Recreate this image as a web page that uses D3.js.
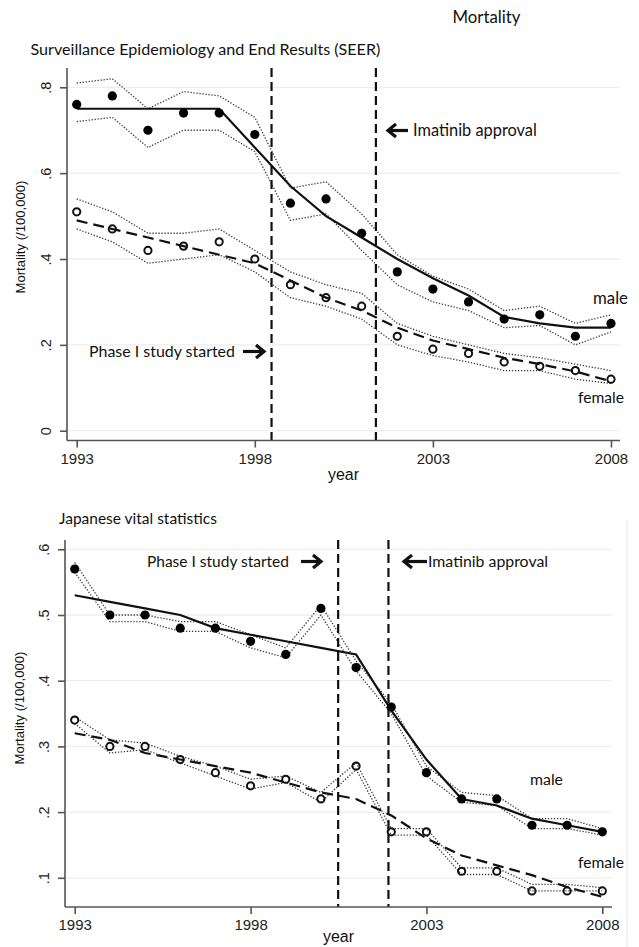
<!DOCTYPE html>
<html>
<head>
<meta charset="utf-8">
<script src="https://cdn.jsdelivr.net/npm/d3@7"></script>
<style>
  html, body { margin: 0; padding: 0; background: #fff; }
  svg { display: block; }
</style>
</head>
<body>
<svg id="chart" width="639" height="947"></svg>
<script>
// ---------------- data ----------------
const years = [1993,1994,1995,1996,1997,1998,1999,2000,2001,2002,2003,2004,2005,2006,2007,2008];
const xTicks = [1993, 1998, 2003, 2008];

// SEER
const seerMale    = [0.76,0.78,0.70,0.74,0.74,0.69,0.53,0.54,0.46,0.37,0.33,0.30,0.26,0.27,0.22,0.25];
const seerMaleFit = [0.75,0.75,0.75,0.75,0.75,0.66,0.57,0.50,0.45,0.40,0.355,0.315,0.265,0.25,0.24,0.24];
const seerMaleHi  = [0.81,0.82,0.75,0.79,0.78,0.73,0.565,0.58,0.505,0.41,0.36,0.33,0.28,0.29,0.25,0.27];
const seerMaleLo  = [0.72,0.73,0.66,0.70,0.70,0.65,0.49,0.505,0.42,0.34,0.30,0.28,0.24,0.245,0.20,0.23];
const seerFemale    = [0.51,0.47,0.42,0.43,0.44,0.40,0.34,0.31,0.29,0.22,0.19,0.18,0.16,0.15,0.14,0.12];
const seerFemaleFit = [0.49,0.47,0.45,0.43,0.41,0.39,0.35,0.31,0.28,0.24,0.21,0.19,0.17,0.155,0.138,0.115];
const seerFemaleHi  = [0.54,0.51,0.46,0.46,0.47,0.42,0.37,0.34,0.32,0.25,0.22,0.20,0.18,0.17,0.155,0.14];
const seerFemaleLo  = [0.47,0.44,0.39,0.40,0.41,0.37,0.31,0.29,0.26,0.20,0.175,0.16,0.14,0.14,0.12,0.11];
const seerEvents = [1998.47, 2001.40];
const seerYTicks = [0, 0.2, 0.4, 0.6, 0.8];
const seerYLabels = ["0", ".2", ".4", ".6", ".8"];

// Japan
const jpMale    = [0.57,0.50,0.50,0.48,0.48,0.46,0.44,0.51,0.42,0.36,0.26,0.22,0.22,0.18,0.18,0.17];
const jpMaleFit = [0.53,0.52,0.51,0.50,0.48,0.47,0.46,0.45,0.44,0.355,0.28,0.22,0.21,0.19,0.18,0.17];
const jpMaleHi  = [0.58,0.50,0.50,0.49,0.49,0.47,0.45,0.515,0.43,0.365,0.27,0.23,0.225,0.19,0.19,0.175];
const jpMaleLo  = [0.565,0.49,0.49,0.475,0.475,0.45,0.435,0.50,0.415,0.35,0.255,0.215,0.21,0.175,0.175,0.165];
const jpFemale    = [0.34,0.30,0.30,0.28,0.26,0.24,0.25,0.22,0.27,0.17,0.17,0.11,0.11,0.08,0.08,0.08];
const jpFemaleFit = [0.32,0.31,0.29,0.28,0.27,0.26,0.245,0.23,0.22,0.195,0.16,0.134,0.119,0.104,0.086,0.071];
const jpFemaleHi  = [0.345,0.31,0.305,0.285,0.27,0.25,0.255,0.23,0.275,0.175,0.175,0.115,0.115,0.09,0.09,0.085];
const jpFemaleLo  = [0.335,0.29,0.295,0.275,0.255,0.235,0.245,0.215,0.265,0.165,0.165,0.105,0.105,0.08,0.08,0.08];
const jpEvents = [2000.49, 2001.92];
const jpYTicks = [0.1, 0.2, 0.3, 0.4, 0.5, 0.6];
const jpYLabels = [".1", ".2", ".3", ".4", ".5", ".6"];

// ---------------- drawing ----------------
const svg = d3.select("#chart");
const SANS = "Lato, 'Open Sans', sans-serif";
const ARIAL = "'Liberation Sans', Arial, sans-serif";

function fitText(sel, target) {
  const w = sel.node().getComputedTextLength();
  const fs = parseFloat(sel.attr("font-size"));
  if (w > 0) sel.attr("font-size", (fs * target / w).toFixed(2));
  return sel;
}

function label(x, y, txt, target, opts = {}) {
  const t = svg.append("text")
    .attr("x", x).attr("y", y)
    .attr("font-family", opts.font || SANS)
    .attr("font-size", opts.size || 16)
    .attr("fill", "#111")
    .attr("text-anchor", opts.anchor || "start")
    .text(txt);
  if (opts.transform) t.attr("transform", opts.transform);
  if (target) fitText(t, target);
  return t;
}

function arrow(x1, x2, y, dir) {
  // dir = 1 pointing right, -1 pointing left
  const tip = dir > 0 ? x2 : x1;
  const tail = dir > 0 ? x1 : x2;
  svg.append("line")
    .attr("x1", tail).attr("x2", tip - dir * 2).attr("y1", y).attr("y2", y)
    .attr("stroke", "#111").attr("stroke-width", 3.2);
  svg.append("path")
    .attr("d", `M${tip - dir * 8},${y - 6.5} L${tip},${y} L${tip - dir * 8},${y + 6.5}`)
    .attr("fill", "none").attr("stroke", "#111").attr("stroke-width", 3.2)
    .attr("stroke-linejoin", "miter");
}

function panel(cfg) {
  const x = d3.scaleLinear().domain([1993, 2008]).range(cfg.xRange);
  const y = d3.scaleLinear().domain(cfg.yDom).range(cfg.yRange);
  const g = svg.append("g");

  // gridlines
  g.append("g").selectAll("line").data(cfg.yTicks).join("line")
    .attr("x1", cfg.left).attr("x2", cfg.right)
    .attr("y1", d => y(d)).attr("y2", d => y(d))
    .attr("stroke", "#eeeeee").attr("stroke-width", 1.3);

  const line = d3.line().x(d => x(d[0])).y(d => y(d[1]));
  const pairs = arr => years.map((yr, i) => [yr, arr[i]]);

  // CI dotted
  [cfg.maleHi, cfg.maleLo, cfg.femaleHi, cfg.femaleLo].forEach(arr => {
    g.append("path").attr("d", line(pairs(arr)))
      .attr("fill", "none").attr("stroke", "#3a3a3a")
      .attr("stroke-width", 1.3).attr("stroke-dasharray", "1.3,1.7");
  });

  // fits
  g.append("path").attr("d", line(pairs(cfg.maleFit)))
    .attr("fill", "none").attr("stroke", "#111").attr("stroke-width", 2.2);
  g.append("path").attr("d", line(pairs(cfg.femaleFit)))
    .attr("fill", "none").attr("stroke", "#111").attr("stroke-width", 2.2)
    .attr("stroke-dasharray", "11,6");

  // markers
  g.append("g").selectAll("circle").data(pairs(cfg.male)).join("circle")
    .attr("cx", d => x(d[0])).attr("cy", d => y(d[1])).attr("r", 4.6)
    .attr("fill", "#000");
  g.append("g").selectAll("circle").data(pairs(cfg.female)).join("circle")
    .attr("cx", d => x(d[0])).attr("cy", d => y(d[1])).attr("r", 3.6)
    .attr("fill", "none").attr("stroke", "#111").attr("stroke-width", 2);

  // event lines
  g.append("g").selectAll("line").data(cfg.events).join("line")
    .attr("x1", d => x(d)).attr("x2", d => x(d))
    .attr("y1", cfg.top).attr("y2", cfg.bottom)
    .attr("stroke", "#111").attr("stroke-width", 2.2)
    .attr("stroke-dasharray", "9,5");

  // axes
  const ax = g.append("g");
  ax.append("line").attr("x1", cfg.left).attr("x2", cfg.left)
    .attr("y1", cfg.top).attr("y2", cfg.bottom)
    .attr("stroke", "#555").attr("stroke-width", 1.6);
  ax.append("line").attr("x1", cfg.left).attr("x2", cfg.right)
    .attr("y1", cfg.bottom).attr("y2", cfg.bottom)
    .attr("stroke", "#555").attr("stroke-width", 1.6);

  const yAxis = d3.axisLeft(y).tickValues(cfg.yTicks)
    .tickFormat((d, i) => cfg.yLabels[i]).tickSize(7).tickSizeOuter(0);
  const ya = g.append("g").attr("transform", `translate(${cfg.left},0)`).call(yAxis);
  ya.select(".domain").remove();
  ya.selectAll(".tick line").attr("stroke", "#555").attr("stroke-width", 1.6);
  ya.selectAll(".tick text")
    .attr("x", null).attr("dy", null)
    .attr("transform", "translate(-16.5,0) rotate(-90)")
    .attr("text-anchor", "middle")
    .attr("font-family", ARIAL).attr("font-size", 14.5).attr("fill", "#222");

  const xAxis = d3.axisBottom(x).tickValues(xTicks)
    .tickFormat(d3.format("d")).tickSize(7).tickSizeOuter(0);
  const xa = g.append("g").attr("transform", `translate(0,${cfg.bottom})`).call(xAxis);
  xa.select(".domain").remove();
  xa.selectAll(".tick line").attr("stroke", "#555").attr("stroke-width", 1.6);
  xa.selectAll(".tick text")
    .attr("y", cfg.xLabelDy).attr("dy", null)
    .attr("font-family", ARIAL).attr("font-size", 15).attr("fill", "#222");

  // axis titles
  label((cfg.left + cfg.right) / 2, cfg.yearBaseline, "year", 31, {font: ARIAL, size: 14, anchor: "middle"});
  label(0, 0, "Mortality (/100,000)", 113,
        {font: ARIAL, size: 11, anchor: "middle",
         transform: `translate(${cfg.yTitleX},${cfg.yTitleY}) rotate(-90)`});
  return {x, y};
}

// top panel
panel({
  left: 67, right: 620, top: 68, bottom: 440.5,
  xRange: [76.7, 611], yDom: [0, 0.8], yRange: [430.7, 87.3],
  yTicks: seerYTicks, yLabels: seerYLabels,
  male: seerMale, maleFit: seerMaleFit, maleHi: seerMaleHi, maleLo: seerMaleLo,
  female: seerFemale, femaleFit: seerFemaleFit, femaleHi: seerFemaleHi, femaleLo: seerFemaleLo,
  events: seerEvents, xLabelDy: 23, yearBaseline: 480, yTitleX: 25, yTitleY: 237
});

// bottom panel
panel({
  left: 65, right: 612, top: 540, bottom: 907,
  xRange: [74.7, 602.3], yDom: [0.1, 0.6], yRange: [877.8, 549.3],
  yTicks: jpYTicks, yLabels: jpYLabels,
  male: jpMale, maleFit: jpMaleFit, maleHi: jpMaleHi, maleLo: jpMaleLo,
  female: jpFemale, femaleFit: jpFemaleFit, femaleHi: jpFemaleHi, femaleLo: jpFemaleLo,
  events: jpEvents, xLabelDy: 23, yearBaseline: 942, yTitleX: 24, yTitleY: 708
});

// faint right border on lower panel
svg.append("line").attr("x1", 627).attr("x2", 627).attr("y1", 520).attr("y2", 947)
  .attr("stroke", "#ececec").attr("stroke-width", 1.5);

// titles
label(452.5, 23, "Mortality", 68, {size: 18});
label(30.5, 55, "Surveillance Epidemiology and End Results (SEER)", 350, {size: 16});
label(59, 523.5, "Japanese vital statistics", 158, {size: 16});

// annotations top
arrow(388, 408, 130.5, -1);
label(413, 136, "Imatinib approval", 124, {size: 16});
label(89, 357, "Phase I study started", 146, {size: 16});
arrow(243, 264, 351.5, 1);
label(593, 304, "male", 35, {size: 16});
label(578, 403, "female", 46, {size: 16});

// annotations bottom
label(147, 567, "Phase I study started", 142, {size: 16});
arrow(301, 321, 561.5, 1);
arrow(404, 427, 561.5, -1);
label(428, 567, "Imatinib approval", 120, {size: 16});
label(530, 785, "male", 33, {size: 16});
label(578, 867.5, "female", 46, {size: 16});
</script>
</body>
</html>
